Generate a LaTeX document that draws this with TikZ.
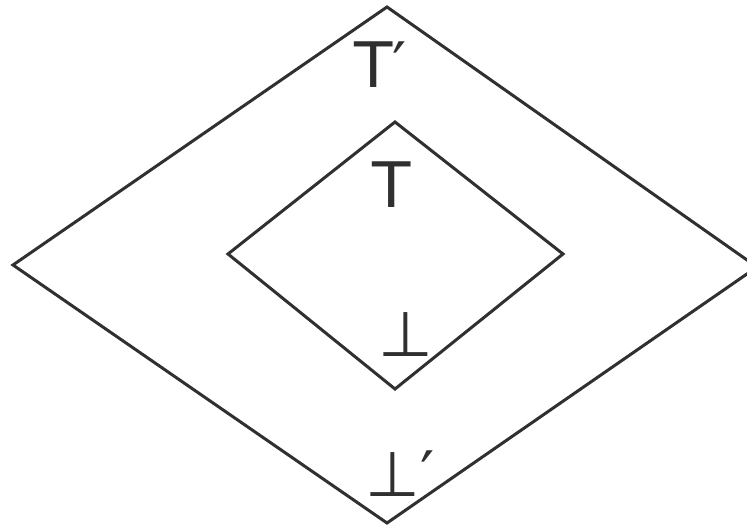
\documentclass[tikz,border=0pt]{standalone}
\usepackage{fontspec}
\setmainfont{DejaVu Sans}
\begin{document}
\begin{tikzpicture}[x=1bp,y=1bp,every node/.style={font=\fontsize{63}{63}\selectfont,inner sep=0,text=ink},line width=3bp,line join=miter]
\path[use as bounding box] (0,0) rectangle (747,527);
\definecolor{ink}{HTML}{303030}
% outer lattice
\coordinate (otop) at (387,520);
\coordinate (oleft) at (13,262);
\coordinate (oright) at (757,260);
\coordinate (obot) at (387,4);
\draw[ink] (otop)--(oright)--(obot)--(oleft)--cycle;
% inner lattice
\coordinate (itop) at (395,405);
\coordinate (ileft) at (228,273);
\coordinate (iright) at (563,273);
\coordinate (ibot) at (395,138);
\draw[ink] (itop)--(iright)--(ibot)--(ileft)--cycle;
\node[anchor=base west] (toptwo) at (353,439) {T′};
\node[anchor=base west] (topone) at (371,319) {T};
\node[anchor=base west] (botone) at (377,170) {⊥};
\node[anchor=base west] (bottwo) at (364,30) {⊥′};
\end{tikzpicture}
\end{document}
